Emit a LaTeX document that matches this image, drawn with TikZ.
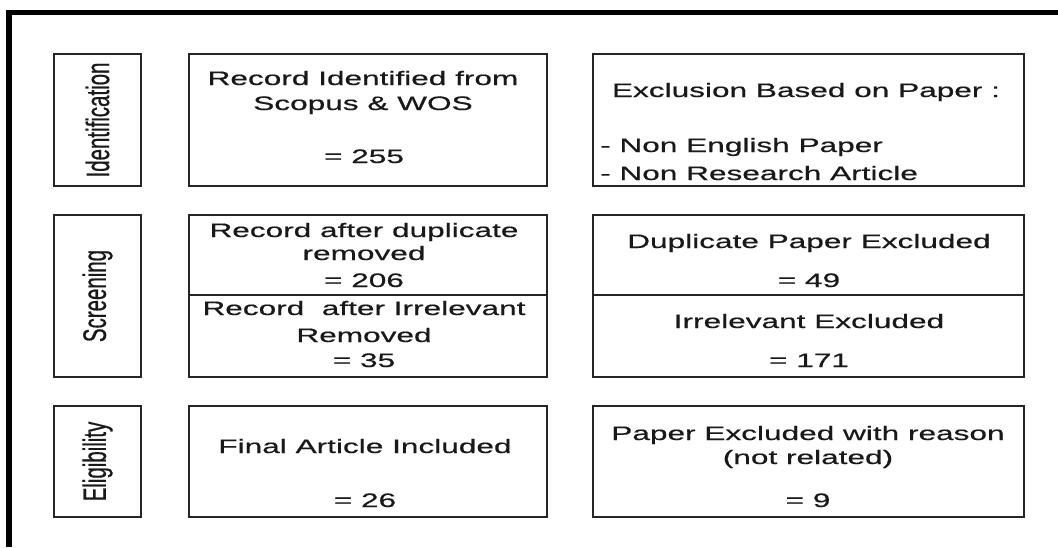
\documentclass[tikz,border=0pt]{standalone}
\usepackage{fontspec}
\setmainfont{Liberation Sans}
\newfontfamily\boxfont[FakeStretch=1.62, FakeBold=0.5]{Liberation Sans}
\newfontfamily\stagefont[FakeStretch=0.63, FakeBold=0.5]{Liberation Sans}

\begin{document}
\begin{tikzpicture}[x=1pt, y=-1pt,
        stage/.style={draw=black!85, line width=1.3pt, rotate=90, minimum width=#1, minimum height=87pt, inner sep=0pt, text=black!90, font=\stagefont\fontsize{32.5}{36}\selectfont},
        box/.style={draw=black!85, line width=1.3pt, inner sep=0pt, minimum height=#1},
        midbox/.style={box=#1, minimum width=358pt},
        rightbox/.style={box=#1, minimum width=431pt},
        txt/.style={anchor=base, inner sep=0pt, text=black!90, font=\boxfont\fontsize{19.5}{25}\selectfont}
    ]
    \useasboundingbox (0,0) rectangle (1058,547);
    \fill[white] (0,0) rectangle (1058,547);

    % Frame
    \draw[line width=5.5pt] (9,547) |- (1058,12.5);

    % Stage labels
    \node[stage=132pt] (idstage) at (97.5,120) {Identification};
    \node[stage=162pt] (scrstage) at (97.5,296) {Screening};
    \node[stage=111pt] (elistage) at (97.5,461.5) {Eligibility};

    % Identification row
    \node[midbox=132pt] (idbox) at (368,120) {};
    \node[txt] (idA) at (363,85) {Record Identified from};
    \node[txt] (idB) at (363,110) {Scopus \& WOS};
    \node[txt] (idC) at (364,163) {= 255};
    \node[rightbox=132pt] (exclbox) at (808.5,120) {};
    \node[txt] (exclA) at (806,97) {Exclusion Based on Paper :};
    \node[txt, anchor=base west] (exclB) at (600,152) {- Non English Paper};
    \node[txt, anchor=base west] (exclC) at (600,180) {- Non Research Article};

    % Screening row
    \node[midbox=80pt] (dupbox) at (368,255) {};
    \node[txt] (dupA) at (364,237) {Record after duplicate};
    \node[txt] (dupB) at (364,260) {removed};
    \node[txt] (dupC) at (364,287) {= 206};
    \node[midbox=82pt] (irrbox) at (368,336) {};
    \node[txt] (irrA) at (364,315) {Record\ \ after Irrelevant};
    \node[txt] (irrB) at (364,342) {Removed};
    \node[txt] (irrC) at (364,367) {= 35};
    \node[rightbox=80pt] (dupexbox) at (808.5,255) {};
    \node[txt] (dupexA) at (809,248) {Duplicate Paper Excluded};
    \node[txt] (dupexB) at (809,287) {= 49};
    \node[rightbox=82pt] (irrexbox) at (808.5,336) {};
    \node[txt] (irrexA) at (809,328) {Irrelevant Excluded};
    \node[txt] (irrexB) at (809,367) {= 171};

    % Eligibility row
    \node[midbox=111pt] (finalbox) at (368,461.5) {};
    \node[txt] (finalA) at (365,453) {Final Article Included};
    \node[txt] (finalB) at (365,507) {= 26};
    \node[rightbox=111pt] (reasonbox) at (808.5,461.5) {};
    \node[txt] (reasonA) at (808,440) {Paper Excluded with reason};
    \node[txt] (reasonB) at (808,464) {(not related)};
    \node[txt] (reasonC) at (808,507) {= 9};

\end{tikzpicture}
\end{document}
